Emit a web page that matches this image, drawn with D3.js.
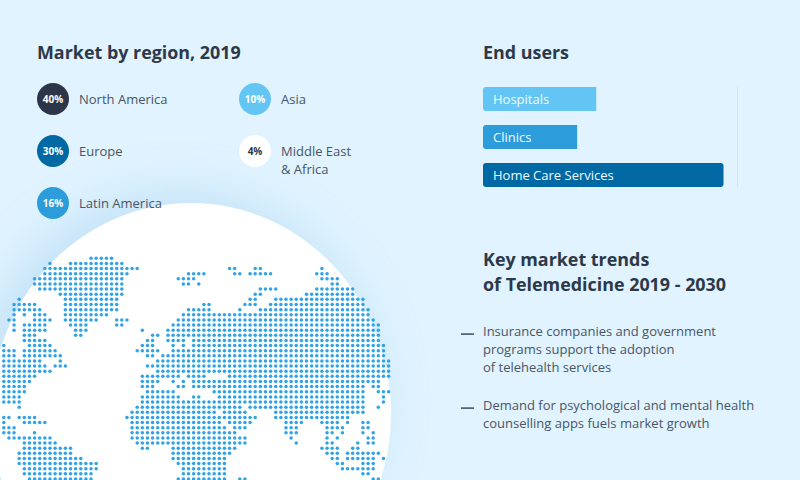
<!DOCTYPE html>
<html lang="en">
<head>
  <meta charset="UTF-8">
  <title>Telemedicine market</title>
  <script src="https://d3js.org/d3.v7.min.js"></script>
  <style>
    html, body { margin: 0; padding: 0; background: #e0f3ff; overflow: hidden; }
    text { font-family: "Open Sans", sans-serif; }
  </style>
</head>
<body>
<div class="canvas"></div>
<script>
  // legend
  const regions = ['North America', 'Europe', 'Latin America', 'Asia', 'Middle East\n& Africa']
  const shares = [40, 30, 16, 10, 4]
  const shareColors = ['#2d3648', '#0069a3', '#2d9cdb', '#63c5f3', '#ffffff']

  // end users, bar length on a 0-100 scale
  const endUsers = ['Hospitals', 'Clinics', 'Home Care Services']
  const endUserValues = [44.5, 37, 94.5]
  const endUserColors = ['#63c5f3', '#2d9cdb', '#0069a3']

  const trends = [
    ['Insurance companies and government', 'programs support the adoption', 'of telehealth services'],
    ['Demand for psychological and mental health', 'counselling apps fuels market growth']
  ]

  // dot map: one list of [first column, last column] runs per row
  const mapRows = [
    [[17,21]],
    [[9,9],[13,23]],
    [[8,26],[44,45],[49,50],[62,62]],
    [[8,24],[36,39],[45,46],[48,52],[61,63]],
    [[6,23],[34,37],[62,65]],
    [[6,23],[35,36],[38,38],[64,65]],
    [[7,23],[50,53],[61,68]],
    [[11,23],[49,50],[59,68]],
    [[3,3],[12,22],[48,49],[53,70]],
    [[2,6],[12,22],[39,40],[47,49],[52,70]],
    [[2,7],[12,22],[36,40],[46,46],[50,71]],
    [[2,2],[4,4],[6,8],[12,20],[35,71]],
    [[1,2],[6,9],[12,18],[22,24],[34,72]],
    [[2,2],[4,8],[13,16],[22,23],[33,73]],
    [[2,2],[4,8],[14,16],[27,27],[32,73]],
    [[4,6],[14,15],[29,30],[32,73]],
    [[4,8],[28,29],[32,35],[37,73]],
    [[0,0],[5,9],[27,29],[33,33],[35,35],[37,74]],
    [[0,2],[4,10],[26,30],[33,74]],
    [[0,2],[4,11],[28,29],[31,74]],
    [[0,7],[11,11],[30,75]],
    [[0,8],[10,12],[28,75]],
    [[0,9],[30,75]],
    [[0,6],[27,34],[36,39],[44,75]],
    [[0,5],[27,30],[33,33],[35,35],[37,73]],
    [[0,4],[27,29],[34,35],[37,70],[72,73]],
    [[0,4],[28,33],[41,70],[73,75]],
    [[0,3],[27,34],[37,38],[42,70],[74,74]],
    [[0,3],[27,70],[74,74]],
    [[3,3],[26,46],[48,70],[73,73]],
    [[25,41],[43,47],[53,70]],
    [[0,1],[3,6],[24,49],[53,67]],
    [[0,0],[4,8],[25,42],[44,48],[55,58],[62,65],[67,67],[70,71]],
    [[0,2],[25,43],[45,47],[55,57],[63,66],[70,71]],
    [[0,2],[6,6],[25,45],[55,57],[63,64],[66,66],[70,70],[72,72]],
    [[1,9],[25,47],[56,56],[63,63],[65,65],[71,72]],
    [[4,10],[26,47],[57,57],[63,64],[69,69],[71,72]],
    [[4,13],[27,28],[33,45],[62,65],[68,69]],
    [[3,13],[33,44],[63,65],[67,73]],
    [[3,15],[33,43],[64,65],[67,72],[74,74]],
    [[3,18],[34,43],[65,66],[70,72]],
    [[4,18],[35,43],[66,72]],
    [[4,17],[35,43],[70,71]],
    [[5,17],[34,43],[46,47],[72,73]]
  ]

  const titleColor = '#2d3848'
  const bodyColor = '#4a5564'

  const svg = d3.select('.canvas')
    .append('svg')
    .attr('width', 800)
    .attr('height', 480)
    .style('display', 'block')

  svg.append('rect').attr('width', 800).attr('height', 480).attr('fill', '#e0f3ff')

  const blur = svg.append('defs').append('filter')
    .attr('id', 'glow')
    .attr('x', '-30%').attr('y', '-30%').attr('width', '160%').attr('height', '160%')
  blur.append('feGaussianBlur').attr('stdDeviation', 24)

  // globe
  svg.append('ellipse')
    .attr('cx', 178).attr('cy', 402).attr('rx', 200).attr('ry', 210)
    .attr('fill', '#a9d3ee').attr('opacity', 0.55)
    .attr('filter', 'url(#glow)')
  svg.append('ellipse')
    .attr('cx', 191).attr('cy', 413).attr('rx', 200).attr('ry', 210)
    .attr('fill', '#ffffff')

  const xMap = d3.scaleLinear().domain([0, 75]).range([3.8, 388.6])
  const yMap = d3.scaleLinear().domain([0, 43]).range([258.3, 479])

  const dots = mapRows.flatMap((runs, row) =>
    runs.flatMap(([a, b]) => d3.range(a, b + 1).map(col => ({ row, col }))))

  svg.append('g').selectAll('circle')
    .data(dots)
    .enter()
    .append('circle')
    .attr('cx', d => xMap(d.col))
    .attr('cy', d => yMap(d.row))
    .attr('r', 1.75)
    .attr('fill', '#30a3e6')

  // headings
  const heading = (txt, x, y) => svg.append('text')
    .attr('x', x).attr('y', y)
    .attr('font-size', 17.9).attr('font-weight', 700)
    .attr('fill', titleColor)
    .text(txt)
  heading('Market by region, 2019', 37, 59)
  heading('End users', 483, 59)
  heading('Key market trends', 483, 266)
  heading('of Telemedicine 2019 - 2030', 483, 291)

  // region legend, two columns
  const legendX = d3.scalePoint().domain([0, 1]).range([53, 255])
  const legendY = d3.scalePoint().domain([0, 1, 2]).range([99, 203])
  const legend = svg.append('g').selectAll('g')
    .data(regions.map((name, i) => ({ name, share: shares[i], color: shareColors[i], col: i < 3 ? 0 : 1, row: i < 3 ? i : i - 3 })))
    .enter()
    .append('g')
    .attr('transform', d => `translate(${legendX(d.col)},${legendY(d.row)})`)
  legend.append('circle').attr('r', 16).attr('fill', d => d.color)
  legend.append('text')
    .attr('text-anchor', 'middle').attr('y', 3.7)
    .attr('font-size', 10).attr('font-weight', 700)
    .attr('fill', d => d.share === 4 ? titleColor : '#ffffff')
    .text(d => d.share + '%')
  legend.append('text')
    .attr('font-size', 13).attr('fill', bodyColor)
    .selectAll('tspan')
    .data(d => d.name.split('\n'))
    .enter()
    .append('tspan')
    .attr('x', 26)
    .attr('y', (d, i) => 5 + i * 18)
    .text(d => d)

  // end user bars
  const xBar = d3.scaleLinear().domain([0, 100]).range([483, 737.5])
  const yBar = d3.scaleBand().domain(endUsers).range([87, 187]).paddingInner(14 / 38).paddingOuter(0)

  // square right end unless the bar is the longest one
  const barPath = (w, h, r, roundRight) => {
    const p = d3.path()
    p.moveTo(r, 0)
    if (roundRight) {
      p.lineTo(w - r, 0)
      p.arcTo(w, 0, w, r, r)
      p.lineTo(w, h - r)
      p.arcTo(w, h, w - r, h, r)
    } else {
      p.lineTo(w, 0)
      p.lineTo(w, h)
    }
    p.lineTo(r, h)
    p.arcTo(0, h, 0, h - r, r)
    p.lineTo(0, r)
    p.arcTo(0, 0, r, 0, r)
    p.closePath()
    return p.toString()
  }

  const bars = svg.append('g').selectAll('g')
    .data(endUsers.map((name, i) => ({ name, value: endUserValues[i], color: endUserColors[i] })))
    .enter()
    .append('g')
    .attr('transform', d => `translate(${xBar(0)},${yBar(d.name)})`)
  bars.append('path')
    .attr('d', d => barPath(xBar(d.value) - xBar(0), yBar.bandwidth(), 3, d.value === d3.max(endUserValues)))
    .attr('fill', d => d.color)
  bars.append('text')
    .attr('x', 10).attr('y', yBar.bandwidth() / 2 + 4.6)
    .attr('font-size', 13).attr('fill', '#f2faff')
    .text(d => d.name)

  svg.append('line')
    .attr('x1', xBar(100)).attr('x2', xBar(100))
    .attr('y1', 87).attr('y2', 187)
    .attr('stroke', '#cfe6f6').attr('stroke-width', 1)

  // trends list
  const trendY = [336, 410]
  trends.forEach((lines, k) => {
    svg.append('rect')
      .attr('x', 461).attr('y', trendY[k] - 2.7)
      .attr('width', 13).attr('height', 1.6)
      .attr('fill', bodyColor)
    svg.append('text')
      .attr('font-size', 13).attr('fill', bodyColor)
      .selectAll('tspan')
      .data(lines)
      .enter()
      .append('tspan')
      .attr('x', 483)
      .attr('y', (d, i) => trendY[k] + i * 18)
      .text(d => d)
  })
</script>
</body>
</html>
